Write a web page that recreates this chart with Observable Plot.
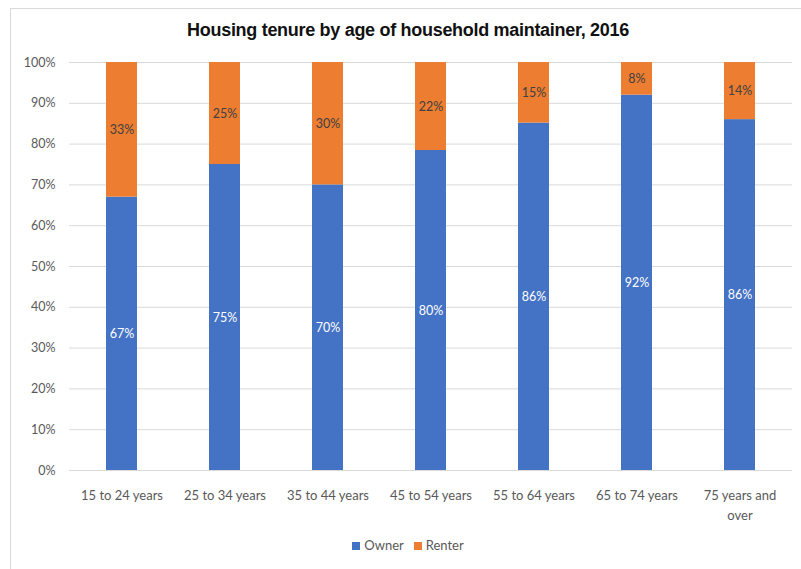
<!DOCTYPE html>
<html>
<head>
<meta charset="utf-8">
<script src="https://cdn.jsdelivr.net/npm/d3@7"></script>
<script src="https://cdn.jsdelivr.net/npm/@observablehq/plot@0.6"></script>
<style>
  html, body { margin: 0; padding: 0; background: #fff; width: 801px; height: 569px; overflow: hidden; }
  #frame { position: absolute; left: 10px; top: 8px; width: 820px; height: 600px; border: 1px solid #d9d9d9; box-sizing: border-box; }
  #title { position: absolute; left: 0; top: 20px; width: 816px; text-align: center; font-family: "Liberation Sans", Arial, sans-serif; font-weight: bold; font-size: 18px; color: #111; letter-spacing: -0.3px; }
  #chart { position: absolute; left: 0; top: 50px; }
  #legend { position: absolute; left: 0; top: 537px; width: 816px; text-align: center; font-family: Lato, sans-serif; font-size: 13px; color: #595959; }
  .sw { display: inline-block; width: 8px; height: 8px; margin-right: 4px; vertical-align: 0px; }
  .item { margin: 0 5px; }
</style>
</head>
<body>
<div id="frame"></div>
<div id="title">Housing tenure by age of household maintainer, 2016</div>
<div id="chart"></div>
<div id="legend"></div>
<script>
const categories = ["15 to 24 years", "25 to 34 years", "35 to 44 years", "45 to 54 years", "55 to 64 years", "65 to 74 years", "75 years and over"];
const tickLabels = ["15 to 24 years", "25 to 34 years", "35 to 44 years", "45 to 54 years", "55 to 64 years", "65 to 74 years", "75 years and\nover"];
const series = ["Owner", "Renter"];
const owner = [67, 75, 70, 80, 86, 92, 86];
const renter = [33, 25, 30, 22, 15, 8, 14];
const colors = ["#4472C4", "#ED7D31"];
const yTicks = [0, 0.1, 0.2, 0.3, 0.4, 0.5, 0.6, 0.7, 0.8, 0.9, 1];

const data = [];
categories.forEach((c, i) => data.push({age: c, tenure: "Owner", value: owner[i]}));
categories.forEach((c, i) => data.push({age: c, tenure: "Renter", value: renter[i]}));

const chart = Plot.plot({
  width: 801,
  height: 475,
  marginTop: 12,
  marginBottom: 55,
  marginLeft: 69,
  marginRight: 9,
  style: {fontFamily: "Lato, sans-serif", fontSize: "12.5px", color: "#595959", background: "transparent"},
  x: {domain: categories, paddingInner: 0.7, paddingOuter: 0.35, label: null},
  y: {domain: [0, 1], label: null},
  color: {domain: series, range: colors},
  marks: [
    Plot.gridY(yTicks, {stroke: "#d9d9d9", strokeOpacity: 1, strokeWidth: 1}),
    Plot.axisY(yTicks, {tickFormat: d => Math.round(d * 100) + "%", tickSize: 0, tickPadding: 14, fill: "#595959", fontSize: 12.5}),
    Plot.axisX({tickFormat: d => tickLabels[categories.indexOf(d)], tickSize: 0, tickPadding: 16, fill: "#595959", fontSize: 13, lineHeight: 1.5}),
    Plot.barY(data, Plot.stackY({offset: "normalize", x: "age", y: "value", fill: "tenure"})),
    Plot.text(data, Plot.stackY({offset: "normalize", x: "age", y: "value", text: d => d.value + "%", fill: d => d.tenure === "Owner" ? "#ffffff" : "#404040", fontSize: 12.5}))
  ]
});
document.getElementById("chart").appendChild(chart);

const legend = document.getElementById("legend");
series.forEach((s, i) => {
  const span = document.createElement("span");
  span.className = "item";
  span.innerHTML = `<span class="sw" style="background:${colors[i]}"></span>${s}`;
  legend.appendChild(span);
});
</script>
</body>
</html>
